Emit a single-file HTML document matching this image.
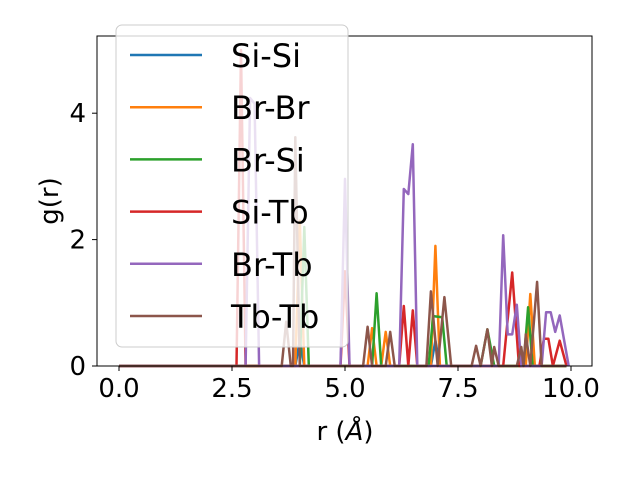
<!DOCTYPE html>
<html><head><meta charset="utf-8">
<style>html,body{margin:0;padding:0;background:#fff}svg{display:block;font-family:"DejaVu Sans","Liberation Sans",sans-serif}</style>
</head><body>
<svg id="chart" width="640" height="480" viewBox="0 0 640 480"></svg>
<script>
const seriesNames = ["Si-Si","Br-Br","Br-Si","Si-Tb","Br-Tb","Tb-Tb"];
const seriesColors = ["#1f77b4","#ff7f0e","#2ca02c","#d62728","#9467bd","#8c564b"];
const xTicks = [0, 2.5, 5, 7.5, 10];
const xTickLabels = ["0.0","2.5","5.0","7.5","10.0"];
const yTicks = [0, 2, 4];
const yTickLabels = ["0","2","4"];
const siSiR = [0, 3.9, 4.0, 4.1, 6.9, 7.0, 7.1, 9.9];
const siSiG = [0, 0, 0.4, 0, 0, 0.4, 0, 0];
const brBrR = [0, 3.9, 4.0, 4.1, 5.5, 5.6, 5.7, 5.8, 5.9, 6.0, 6.9, 7.0, 7.1, 9.0, 9.1, 9.2, 9.9];
const brBrG = [0, 0, 2.3, 0, 0, 0.6, 0, 0, 0.54, 0, 0, 1.9, 0, 0, 1.14, 0, 0];
const brSiR = [0, 4.0, 4.1, 4.2, 5.6, 5.7, 5.8, 6.85, 6.95, 7.15, 7.25, 8.0, 8.15, 8.3, 8.95, 9.05, 9.15, 9.9];
const brSiG = [0, 0, 2.2, 0, 0, 1.15, 0, 0, 0.79, 0.77, 0, 0, 0.58, 0, 0, 0.93, 0, 0];
const siTbR = [0, 2.6, 2.7, 2.8, 4.9, 5.0, 5.1, 6.2, 6.3, 6.4, 6.5, 6.6, 8.5, 8.7, 8.85, 9.3, 9.4, 9.5, 9.6, 9.75, 9.9];
const siTbG = [0, 0, 5.0, 0, 0, 1.5, 0, 0, 0.95, 0, 0.88, 0, 0, 1.48, 0, 0, 0.43, 0.43, 0, 0.4, 0];
const brTbR = [0, 2.8, 2.9, 3.0, 3.1, 4.9, 5.0, 5.1, 6.2, 6.3, 6.4, 6.5, 6.6, 8.4, 8.5, 8.6, 8.7, 8.8, 8.9, 9.35, 9.45, 9.55, 9.65, 9.75, 9.95];
const brTbG = [0, 0, 4.24, 4.15, 0, 0, 2.96, 0, 0, 2.8, 2.72, 3.51, 0, 0, 2.07, 0.5, 0.5, 0.97, 0, 0, 0.85, 0.85, 0.54, 0.8, 0];
const tbTbR = [0, 3.6, 3.7, 3.8, 3.85, 3.9, 4.0, 5.4, 5.5, 5.6, 5.9, 6.0, 6.1, 6.8, 6.9, 7.05, 7.2, 7.35, 7.8, 7.9, 8.0, 8.15, 8.25, 8.3, 8.4, 8.8, 8.9, 8.95, 9.0, 9.1, 9.25, 9.35, 9.9];
const tbTbG = [0, 0, 0.7, 0, 0, 3.62, 0, 0, 0.62, 0, 0, 0.54, 0, 0, 1.18, 0, 1.09, 0, 0, 0.32, 0, 0.58, 0, 0.3, 0, 0, 0.3, 0, 0.5, 0, 1.33, 0, 0];
const allR = [siSiR, brBrR, brSiR, siTbR, brTbR, tbTbR];
const allG = [siSiG, brBrG, brSiG, siTbG, brTbG, tbTbG];

const NS = "http://www.w3.org/2000/svg";
const svg = document.getElementById("chart");
const L = 97, R = 592, T = 36, B = 366;
function xs(r){ return 119 + r * 45.2; }
function ys(g){ return 366 - g * 63.2; }
function mk(tag, attrs, parent){
  const e = document.createElementNS(NS, tag);
  for (const k in attrs) e.setAttribute(k, attrs[k]);
  (parent || svg).appendChild(e);
  return e;
}
const plot = mk("g", {});


for (let s = 0; s < seriesNames.length; s++) {
  const pts = allR[s].map((r, i) => xs(r).toFixed(1) + "," + ys(allG[s][i]).toFixed(1)).join(" ");
  const pl = mk("polyline", {points: pts, fill: "none", stroke: seriesColors[s], "stroke-width": 2.5, "stroke-linejoin": "round"}, plot);
  
  
}
const frame = mk("rect", {x: L, y: T, width: R - L, height: B - T, fill: "none", stroke: "#000", "stroke-width": 1});


xTicks.forEach((v, i) => {
  const x = xs(v);
  const tk = mk("line", {x1: x, x2: x, y1: B, y2: B + 5, stroke: "#000"});
  
  
  const t = mk("text", {x: x, y: B + 31, "font-size": 26, "text-anchor": "middle"});
  t.textContent = xTickLabels[i];
  
  
});
yTicks.forEach((v, i) => {
  const y = ys(v);
  const tk = mk("line", {x1: L - 5, x2: L, y1: y, y2: y, stroke: "#000"});
  
  
  const t = mk("text", {x: L - 11, y: y + 9, "font-size": 26, "text-anchor": "end"});
  t.textContent = yTickLabels[i];
  
  
});
const xl = mk("text", {x: 345, y: 440, "font-size": 26, "text-anchor": "middle"});
xl.innerHTML = 'r (<tspan font-style="italic">Å</tspan>)';


const yl = mk("text", {x: 58, y: 201, "font-size": 26, "text-anchor": "middle", transform: "rotate(-90 58 201)"});
yl.textContent = "g(r)";


const leg = mk("g", {});


mk("rect", {x: 116, y: 25, width: 232, height: 322, rx: 6, fill: "#fff", "fill-opacity": 0.8, stroke: "#ccc", "stroke-width": 1}, leg);
seriesNames.forEach((n, i) => {
  const y = 55 + i * 52.2;
  const ln = mk("line", {x1: 130, x2: 202, y1: y, y2: y, stroke: seriesColors[i], "stroke-width": 2.5}, leg);
  
  
  const t = mk("text", {x: 231, y: y + 12, "font-size": 32}, leg);
  t.textContent = n;
  
  
});
</script>
</body></html>
